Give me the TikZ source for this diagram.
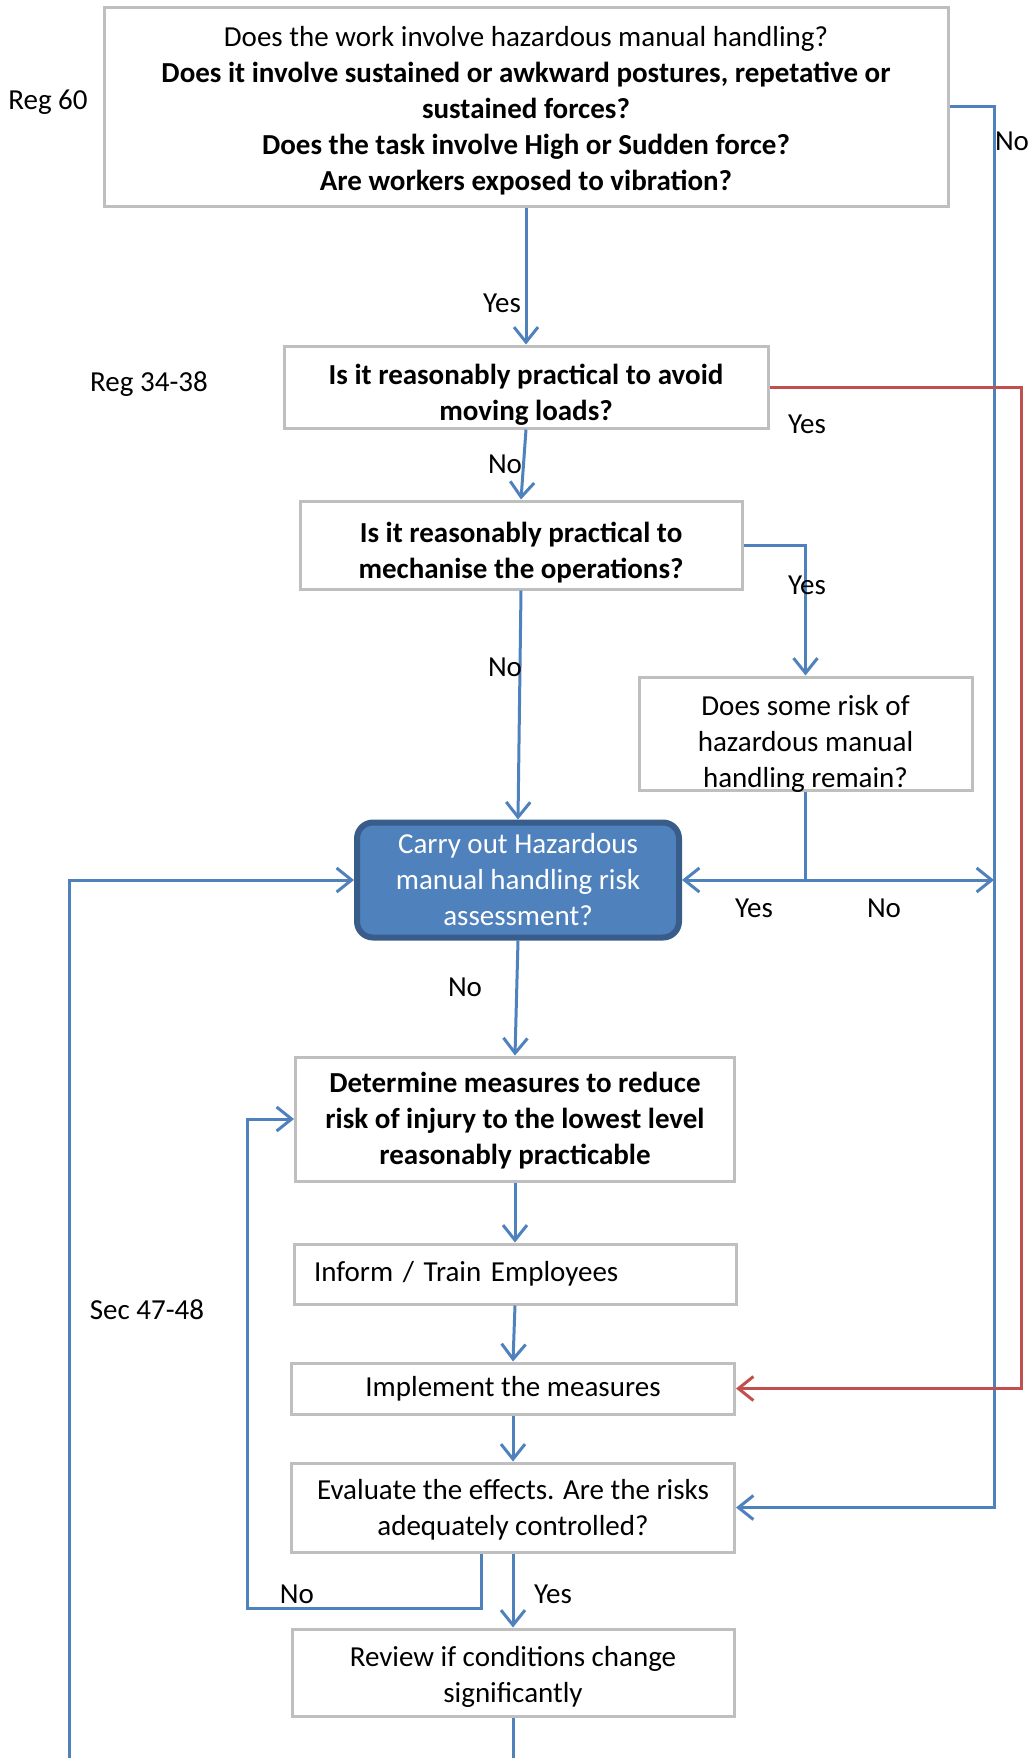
\documentclass[tikz,border=0pt]{standalone}
\usepackage{fontspec}
\setmainfont{Carlito}
\usepackage{xcolor}
\usepackage{tikz}
\usetikzlibrary{arrows.meta, positioning, calc}
\definecolor{cblue}{RGB}{79,129,189}
\definecolor{cred}{RGB}{192,80,77}
\definecolor{cedge}{RGB}{56,93,138}
\definecolor{cgray}{RGB}{191,191,191}
\newcommand{\chartfont}{\fontsize{29}{36}\selectfont}
\newcommand{\drop}[1]{\rule{0pt}{#1}}

\begin{document}
\begin{tikzpicture}[
    x=1pt, y=-1pt,
    >={Straight Barb[length=15pt, width=24pt]},
    box/.style={draw=cgray, line width=3pt, fill=white, align=center, font=\chartfont, inner sep=2pt},
    qbox/.style={box, font=\chartfont\bfseries},
    actbox/.style={draw=cedge, line width=6pt, fill=cblue, rounded corners=16pt, text=white, align=center, font=\chartfont, inner sep=2pt},
    flow/.style={->, cblue, line width=3pt},
    redflow/.style={->, cred, line width=3pt},
    lbl/.style={font=\chartfont, inner sep=0pt},
]
    \useasboundingbox (0,0) rectangle (1031,1758);

    \node[box, minimum width=844pt, minimum height=198pt] (work) at (526,107)
        {\drop{27pt}Does the work involve hazardous manual handling?\\
         \textbf{Does it involve sustained or awkward postures, repetative or}\\
         \textbf{sustained forces?}\\
         \textbf{Does the task involve High or Sudden force?}\\
         \textbf{Are workers exposed to vibration?}};
    \node[qbox, minimum width=484pt, minimum height=82pt, below=137pt of work] (avoid)
        {\drop{36pt}Is it reasonably practical to avoid\\ moving loads?};
    \node[qbox, minimum width=442pt, minimum height=88pt, below=70pt of avoid, xshift=-5pt] (mech)
        {\drop{36pt}Is it reasonably practical to\\ mechanise the operations?};
    \node[box, minimum width=333pt, minimum height=113pt, text depth=0pt] (remain) at (805.5,733.5)
        {\drop{36pt}Does some risk of\\ hazardous manual\\ handling remain?};
    \node[actbox, minimum width=322pt, minimum height=115pt, below=229pt of mech, xshift=-3pt] (assess)
        {Carry out Hazardous\\ manual handling risk\\ assessment?};
    \node[qbox, minimum width=439pt, minimum height=124pt, below=115pt of assess, xshift=-3pt] (measures)
        {\drop{24pt}Determine measures to reduce\\ risk of injury to the lowest level\\ reasonably practicable};
    \node[box, text width=402pt, align=left, minimum height=60pt, inner xsep=20pt, below=60pt of measures] (inform)
        {Inform / Train Employees};
    \node[box, minimum width=443pt, minimum height=51pt, below=56pt of inform, xshift=-2pt] (implement)
        {Implement the measures};
    \node[box, minimum width=443pt, minimum height=89pt, below=46pt of implement] (evaluate)
        {\drop{24pt}Evaluate the effects. Are the risks\\ adequately controlled?};
    \node[box, minimum width=442pt, minimum height=87pt, below=74pt of evaluate] (review)
        {\drop{29pt}Review if conditions change\\ significantly};

    % side references
    \node[lbl] (reg60) at (48,102) {Reg 60};
    \node[lbl] (reg34) at (149,384) {Reg 34-38};
    \node[lbl] (sec47) at (147,1310) {Sec 47-48};

    % bus lines on the right and loops on the left
    \coordinate (nobus) at (994,107);
    \coordinate (yesbus) at (1021,387);
    \coordinate (split) at (remain.south |- assess.east);
    \coordinate (remainno) at (nobus |- assess.east);
    \coordinate (loopno) at (247,1608);
    \coordinate (backloop) at (69,1770);
    \coordinate (reviewend) at (review.south |- backloop);

    \draw[flow] (work.south) -- (avoid.north);
    \draw[flow] (work.east) -- (nobus) |- (evaluate.east);
    \draw[redflow] (avoid.east) -- (yesbus) |- (implement.east);
    \draw[flow] (avoid.south) -- (mech.north);
    \draw[flow] (mech.east) -| (remain.north);
    \draw[flow] (mech.south) -- (assess.north);
    \draw[flow] (remain.south) |- (assess.east);
    \draw[flow] (split) -- (remainno);
    \draw[flow] (assess.south) -- (measures.north);
    \draw[flow] (measures.south) -- (inform.north);
    \draw[flow] (inform.south) -- (implement.north);
    \draw[flow] (implement.south) -- (evaluate.north);
    \draw[flow] (evaluate.south) -- (review.north);
    \draw[flow] ([xshift=-32pt]evaluate.south) |- (loopno) |- (measures.west);
    \draw[cblue, line width=3pt] (review.south) -- (reviewend);
    \draw[flow] (backloop) |- (assess.west);

    % answers
    \node[lbl] (yes1) at (502,303) {Yes};
    \node[lbl] (no1) at (1012,141) {No};
    \node[lbl] (yes2) at (807,424) {Yes};
    \node[lbl] (no2) at (505,464) {No};
    \node[lbl] (yes3) at (807,585) {Yes};
    \node[lbl] (no3) at (505,667) {No};
    \node[lbl] (yes4) at (754,908) {Yes};
    \node[lbl] (no4) at (884,908) {No};
    \node[lbl] (no5) at (465,987) {No};
    \node[lbl] (no6) at (297,1594) {No};
    \node[lbl] (yes5) at (553,1594) {Yes};
\end{tikzpicture}
\end{document}
